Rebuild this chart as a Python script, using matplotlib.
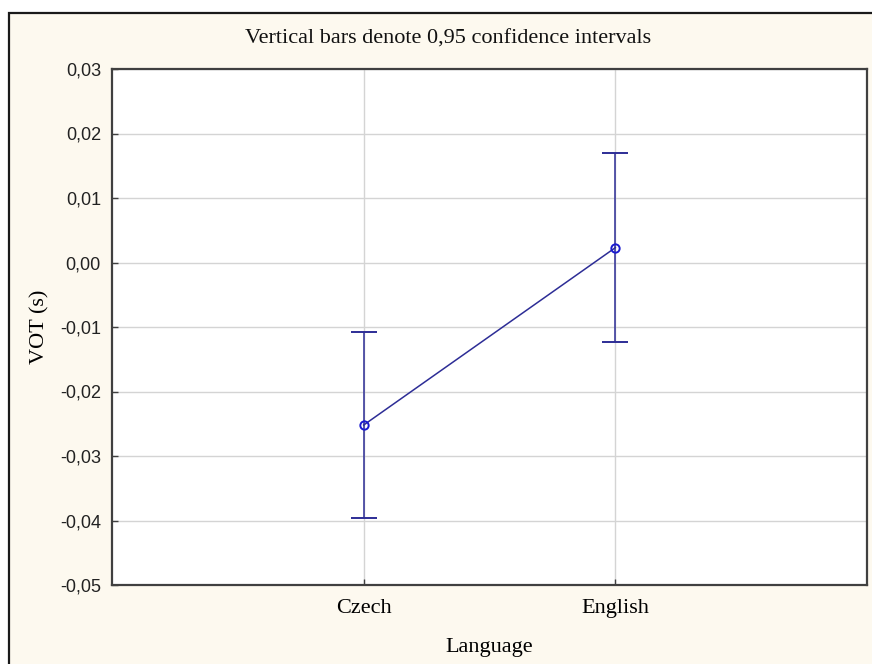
import matplotlib
matplotlib.use("Agg")
import matplotlib.pyplot as plt
from matplotlib.patches import Rectangle
from matplotlib.ticker import FuncFormatter

# Mean VOT per language with 0.95 confidence limits
languages = ["Czech", "English"]
vot_mean = [-0.0252, 0.0023]
ci_half = [0.0144, 0.0146]

W, H = 872, 664
fig = plt.figure(figsize=(W / 100, H / 100), dpi=100, facecolor="white")

# beige panel with dark frame (top and left edges visible)
fig.patches.append(Rectangle((9 / W, -0.02), 1.0, 1 - 13 / H + 0.02,
                             transform=fig.transFigure, facecolor="#fdf9ef",
                             edgecolor="#1a1a1a", linewidth=1.6, zorder=-10))

ax = fig.add_axes([112 / W, 1 - 585 / H, (867 - 112) / W, (585 - 69) / H])
ax.set_zorder(1)
ax.set_facecolor("white")

x = [1, 2]
ax.errorbar(x, vot_mean, yerr=ci_half, color="#2d2d96", linewidth=1.1,
            ecolor="#2d2d96", elinewidth=1.1, capsize=9.5, capthick=1.1,
            marker="o", markersize=6, markerfacecolor="none",
            markeredgecolor="#1a1ad0", markeredgewidth=1.4, zorder=3)

ax.set_xlim(0, 3)
ax.set_ylim(-0.05, 0.03)
ax.set_xticks(x)
ax.set_xticklabels(languages, fontfamily="Liberation Serif", fontsize=16)
ax.set_yticks([-0.05, -0.04, -0.03, -0.02, -0.01, 0.0, 0.01, 0.02, 0.03])
ax.yaxis.set_major_formatter(FuncFormatter(lambda v, p: f"{v:.2f}".replace(".", ",").replace("-0,00", "0,00")))
for lbl in ax.get_yticklabels():
    lbl.set_fontfamily("Liberation Sans")
    lbl.set_fontsize(13)
    lbl.set_color("#222222")

ax.tick_params(axis="both", direction="in", length=4, width=1, color="#404040")
ax.tick_params(axis="x", pad=10)
ax.tick_params(axis="y", pad=8)

ax.grid(True, color="#d4d4d4", linewidth=1.0)
ax.set_axisbelow(True)
for side in ax.spines.values():
    side.set_color("#404040")
    side.set_linewidth(1.6)

ax.set_xlabel("Language", fontfamily="Liberation Serif", fontsize=16)
ax.xaxis.set_label_coords(0.5, -(638 - 585) / (585 - 69), transform=ax.transAxes)
ax.set_ylabel("VOT (s)", fontfamily="Liberation Serif", fontsize=16)
ax.yaxis.set_label_coords(-(112 - 49) / (867 - 112), 0.5, transform=ax.transAxes)

fig.text(448 / W, 1 - 39 / H, "Vertical bars denote 0,95 confidence intervals",
         ha="center", va="center", fontfamily="Liberation Serif", fontsize=16,
         color="#111111")

fig.savefig("out.png", dpi=100, facecolor=fig.get_facecolor())
